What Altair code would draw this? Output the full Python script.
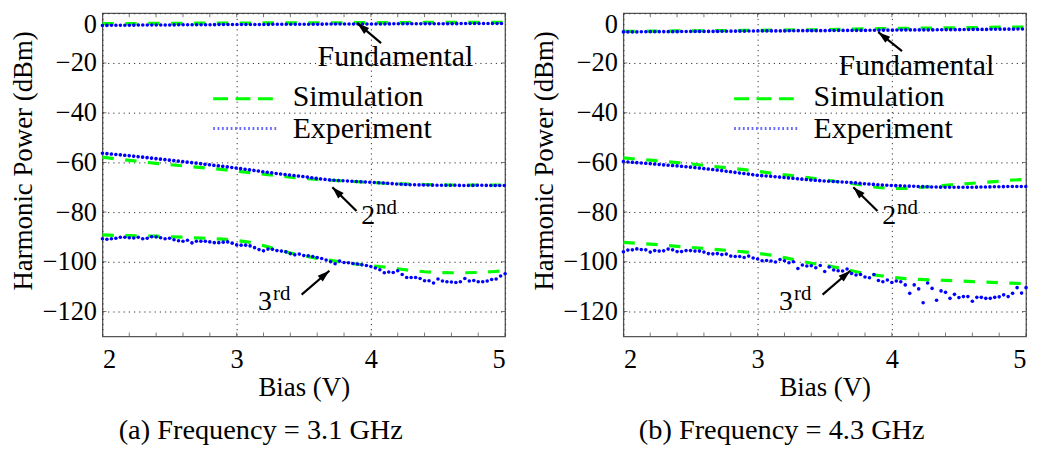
import altair as alt
import pandas as pd

# ---------------- data ----------------
BIAS = [2.0, 2.1, 2.2, 2.3, 2.4, 2.5, 2.6, 2.7, 2.8, 2.9, 3.0, 3.1, 3.2, 3.3, 3.4, 3.5,
        3.6, 3.7, 3.8, 3.9, 4.0, 4.1, 4.2, 4.3, 4.4, 4.5, 4.6, 4.7, 4.8, 4.9, 5.0]
BIAS_FINE = [round(2 + i / 30, 4) for i in range(91)]   # measurement grid (1/30 V)
MINOR_X = [2.0, 2.2, 2.4, 2.6, 2.8, 3.0, 3.2, 3.4, 3.6, 3.8, 4.0, 4.2, 4.4, 4.6, 4.8, 5.0]
MAJOR_X = [2, 3, 4, 5]
MAJOR_Y = [-120, -100, -80, -60, -40, -20, 0]

# (a) 3.1 GHz
A_SIM_FUND = [-4.2, -4.2, -4.2, -4.1, -4.1, -4.1, -4.1, -4.0, -4.0, -4.0, -4.0, -4.0, -3.9, -3.9, -3.9, -3.9,
              -3.9, -3.9, -3.8, -3.8, -3.8, -3.8, -3.8, -3.8, -3.7, -3.7, -3.7, -3.7, -3.7, -3.7, -3.7]
A_EXP_FUND = [-4.9, -4.8, -4.8, -4.7, -4.7, -4.7, -4.6, -4.6, -4.6, -4.5, -4.5, -4.5, -4.5, -4.4, -4.4, -4.4,
              -4.4, -4.3, -4.3, -4.3, -4.3, -4.3, -4.2, -4.2, -4.2, -4.2, -4.2, -4.1, -4.1, -4.1, -4.1]
A_SIM_2ND = [-57.9, -58.6, -59.2, -59.8, -60.4, -60.9, -61.4, -61.9, -62.4, -62.9, -63.5, -64.1, -64.7, -65.3,
             -66.0, -66.5, -66.9, -67.2, -67.5, -67.8, -68.1, -68.4, -68.6, -68.8, -68.9, -69.0, -69.1, -69.1,
             -69.1, -69.1, -69.1]
A_EXP_2ND = [-56.3, -56.8, -57.3, -57.9, -58.5, -59.1, -59.7, -60.3, -61.0, -61.6, -62.3, -63.0, -63.8, -64.5,
             -65.1, -65.7, -66.5, -67.1, -67.4, -67.7, -68.0, -68.3, -68.7, -69.0, -69.1, -69.2, -69.2, -69.3,
             -69.2, -69.3, -69.3]
A_SIM_3RD = [-89.2, -89.4, -89.5, -89.6, -89.7, -89.9, -90.1, -90.4, -90.6, -90.9, -91.4, -92.2, -93.5, -95.0,
             -96.5, -97.6, -98.6, -99.4, -100.3, -101.0, -101.6, -102.1, -102.8, -103.5, -104.0, -104.3, -104.4,
             -104.4, -104.3, -104.0, -103.6]
A_EXP_3RD = [-90.7, -90.9, -90.7, -90.5, -90.1, -90.1, -90.3, -90.4, -90.1, -90.7, -90.5, -89.9, -90.0, -90.3,
             -90.7, -90.5, -91.1, -91.5, -91.7, -91.3, -92.4, -91.7, -91.7, -91.7, -92.0, -92.3, -92.3, -92.1,
             -92.0, -92.5, -93.2, -93.3, -93.3, -93.6, -94.3, -95.1, -95.6, -94.9, -95.0, -95.5, -95.7, -96.0,
             -96.7, -97.2, -96.9, -97.5,
             -97.6, -97.9, -98.3, -98.7, -99.3, -100.0, -100.8, -99.7, -100.3, -100.4, -100.7, -100.9, -101.2,
             -101.5, -101.9, -102.5, -103.2, -104.4, -104.1, -104.3, -103.6, -105.1, -106.3, -106.3, -106.3,
             -106.7, -107.6, -107.6, -108.5, -106.9, -107.7, -108.0, -108.1, -108.3, -108.0, -106.7, -107.7,
             -107.5, -108.0, -108.0, -107.7, -107.1, -106.9, -105.7, -104.8]

# (b) 4.3 GHz
B_SIM_FUND = [-7.3, -7.3, -7.2, -7.2, -7.1, -7.1, -7.1, -7.0, -7.0, -6.9, -6.9, -6.8, -6.8, -6.7, -6.7, -6.6,
              -6.5, -6.4, -6.3, -6.2, -6.1, -6.1, -6.0, -6.0, -5.9, -5.8, -5.8, -5.7, -5.6, -5.6, -5.5]
B_EXP_FUND = [-7.5, -7.5, -7.4, -7.4, -7.4, -7.3, -7.3, -7.3, -7.2, -7.2, -7.1, -7.1, -7.1, -7.0, -7.0, -7.0,
              -6.9, -6.9, -6.9, -6.8, -6.8, -6.7, -6.7, -6.7, -6.6, -6.6, -6.5, -6.5, -6.4, -6.4, -6.3]
B_SIM_2ND = [-58.2, -58.7, -59.1, -59.6, -60.1, -60.6, -61.2, -61.8, -62.3, -62.9, -63.6, -64.3, -65.0, -65.6,
             -66.3, -67.0, -67.8, -68.5, -69.3, -70.1, -70.5, -70.5, -70.1, -69.7, -69.2, -68.8, -68.4, -68.0,
             -67.6, -67.1, -66.8]
B_EXP_2ND = [-59.7, -60.1, -60.5, -61.0, -61.4, -61.9, -62.5, -63.1, -63.8, -64.5, -65.2, -65.6, -66.1, -66.6,
             -67.1, -67.5, -67.8, -68.1, -68.6, -69.0, -69.3, -69.5, -69.7, -69.9, -70.0, -70.0, -70.0, -69.9,
             -69.8, -69.7, -69.7]
B_SIM_3RD = [-92.2, -92.5, -92.9, -93.3, -93.8, -94.2, -94.6, -95.1, -95.5, -96.0, -96.6, -97.3, -98.3, -99.5,
             -100.6, -101.4, -102.4, -103.6, -104.7, -105.5, -106.2, -106.8, -107.1, -107.3, -107.5, -107.7,
             -108.0, -108.2, -108.4, -108.6, -108.8]
B_EXP_3RD = [-96.0, -95.3, -95.2, -94.8, -95.1, -95.2, -96.1, -95.5, -95.7, -95.6, -94.9, -95.2, -95.9, -95.9,
             -95.5, -95.5, -95.7, -95.7, -96.1, -96.7, -96.8, -96.7, -97.1, -96.9, -97.7, -97.9, -97.9, -98.3,
             -97.7, -98.5, -98.9, -99.6, -99.5, -99.7, -100.1, -99.1, -99.6, -100.4, -100.0, -102.7, -101.3,
             -101.7, -101.6, -102.4, -101.5, -103.9,
             -102.1, -103.3, -103.6, -103.7, -102.9, -104.7, -105.3, -105.1, -106.1, -106.4, -105.1, -107.5,
             -108.0, -107.3, -108.3, -107.7, -108.0, -109.3, -112.7, -109.3, -110.9, -116.5, -108.5, -110.7,
             -115.5, -111.7, -112.3, -114.7, -113.1, -114.4, -114.0, -114.0, -115.9, -114.3, -114.3, -114.7,
             -114.7, -114.3, -114.1, -113.3, -114.0, -112.7, -110.4, -112.6, -110.4]

CAPTIONS = ["(a) Frequency = 3.1 GHz", "(b) Frequency = 4.3 GHz"]
LEGEND_LABELS = ["Simulation", "Experiment"]

FONT = "Liberation Serif"
GREEN = "#00ff00"
BLUE = "#0000ff"
ARROW_PATH = "M0,0L-0.4,1.25L0.4,1.25Z"


def long_frame(xs, series):
    rows = []
    for name, vals in series.items():
        for x, v in zip(xs, vals):
            rows.append({"bias": x, "value": v, "trace": name})
    return pd.DataFrame(rows)


def arrow(tail, head, angle):
    shaft = alt.Chart().mark_rule(color="black", strokeWidth=2.2).encode(
        x=alt.datum(tail[0]), y=alt.datum(tail[1]),
        x2=alt.datum(head[0]), y2=alt.datum(head[1]))
    tip = alt.Chart().mark_point(shape=ARROW_PATH, filled=True, color="black", opacity=1,
                                 size=380, angle=angle, strokeWidth=0).encode(
        x=alt.datum(head[0]), y=alt.datum(head[1]))
    return [shaft, tip]


def label(text, x, y, size=30, align="left"):
    return alt.Chart().mark_text(text=text, font=FONT, fontSize=size, align=align,
                                 baseline="alphabetic", color="black").encode(
        x=alt.datum(x), y=alt.datum(y))


def panel(sim_f, exp_f, sim_2, exp_2, sim_3, exp_3, caption, fund_y, fund_tail, fund_head, fund_angle):
    xscale = alt.Scale(domain=[2, 5], nice=False, zero=False)
    yscale = alt.Scale(domain=[-130, 0], nice=False, zero=False)

    sim = long_frame(BIAS, {"f": sim_f, "2": sim_2, "3": sim_3})
    exp = long_frame(BIAS, {"f": exp_f, "2": exp_2})
    exp3 = pd.DataFrame({"bias": BIAS_FINE, "value": exp_3})

    axis_common = dict(format="d", grid=True, gridDash=[1.2, 4], gridColor="#333", gridWidth=1,
                       ticks=False, tickSize=0, domain=False,
                       labelFont=FONT, labelFontSize=26.5, labelColor="black",
                       titleFont=FONT, titleFontSize=27, titleFontWeight="normal", titleColor="black")

    sim_layer = alt.Chart(sim).mark_line(color=GREEN, strokeWidth=3.2, strokeDash=[11.5, 11.5]).encode(
        x=alt.X("bias:Q", scale=xscale,
                axis=alt.Axis(values=MAJOR_X, title="Bias (V)", labelPadding=10, titlePadding=2,
                              **axis_common)),
        y=alt.Y("value:Q", scale=yscale,
                axis=alt.Axis(values=MAJOR_Y, title="Harmonic Power (dBm)", labelPadding=6,
                              labelOffset={"condition": {"test": "datum.value === 0", "value": 11},
                                           "value": 0},
                              titlePadding=5, titleY=148, **axis_common)),
        detail="trace:N")

    exp_layer = alt.Chart(exp).mark_line(color=BLUE, strokeWidth=3.6, strokeDash=[0.01, 4.5],
                                         strokeCap="round").encode(
        x="bias:Q", y="value:Q", detail="trace:N")
    exp3_layer = alt.Chart(exp3).mark_circle(color=BLUE, size=13, opacity=1).encode(
        x="bias:Q", y="value:Q")

    tx = pd.DataFrame({"t": MINOR_X})
    ty = pd.DataFrame({"t": MAJOR_Y})
    ticks = []
    for yv in (0, -130):
        ticks.append(alt.Chart(tx).mark_tick(orient="vertical", size=8, thickness=1, color="#444",
                                             clip=True).encode(x="t:Q", y=alt.datum(yv)))
    for xv in (2, 5):
        ticks.append(alt.Chart(ty).mark_tick(orient="horizontal", size=8, thickness=1, color="#444",
                                             clip=True).encode(y="t:Q", x=alt.datum(xv)))

    legend = [
        alt.Chart().mark_rule(color=GREEN, strokeWidth=3.2, strokeDash=[15, 7.5]).encode(
            x=alt.datum(2.825), x2=alt.datum(3.299), y=alt.datum(-34.4)),
        alt.Chart().mark_rule(color="#6a6aff", strokeWidth=3, strokeDash=[1.8, 2.6]).encode(
            x=alt.datum(2.825), x2=alt.datum(3.299), y=alt.datum(-46.4)),
        label(LEGEND_LABELS[0], 3.417, -37.3),
        label(LEGEND_LABELS[1], 3.417, -50.0),
    ]

    notes = [label("Fundamental", 3.603, fund_y)]
    notes += arrow(fund_tail, fund_head, fund_angle)
    notes += [label("2", 3.928, -84.7, size=28), label("nd", 4.039, -80.7, size=21)]
    notes += arrow((3.893, -79.6), (3.713, -70.0), 315)
    notes += [label("3", 3.159, -119.2, size=28), label("rd", 3.271, -115.2, size=21)]
    notes += arrow((3.484, -113.2), (3.691, -103.6), 49.4)

    return alt.layer(sim_layer, exp_layer, exp3_layer, *ticks, *legend, *notes).properties(
        width=405, height=325,
        title=alt.TitleParams(text=caption, orient="bottom", anchor="middle", frame="bounds",
                              font=FONT, fontSize=28.5, fontWeight="normal", offset=16, color="black"))


left = panel(A_SIM_FUND, A_EXP_FUND, A_SIM_2ND, A_EXP_2ND, A_SIM_3RD, A_EXP_3RD, CAPTIONS[0],
             -21.2, (4.076, -12.0), (3.899, -4.0), 309.8)
right = panel(B_SIM_FUND, B_EXP_FUND, B_SIM_2ND, B_EXP_2ND, B_SIM_3RD, B_EXP_3RD, CAPTIONS[1],
              -24.7, (4.076, -15.2), (3.899, -7.6), 308.4)

chart = alt.hconcat(left, right, spacing=16).properties(
    padding={"left": 0, "top": 1, "right": 0, "bottom": 0}
).configure(font=FONT).configure_view(stroke="#555", strokeWidth=1.3).configure_text(font=FONT)

chart.save("out.html", embed_options={"renderer": "svg", "actions": False})
